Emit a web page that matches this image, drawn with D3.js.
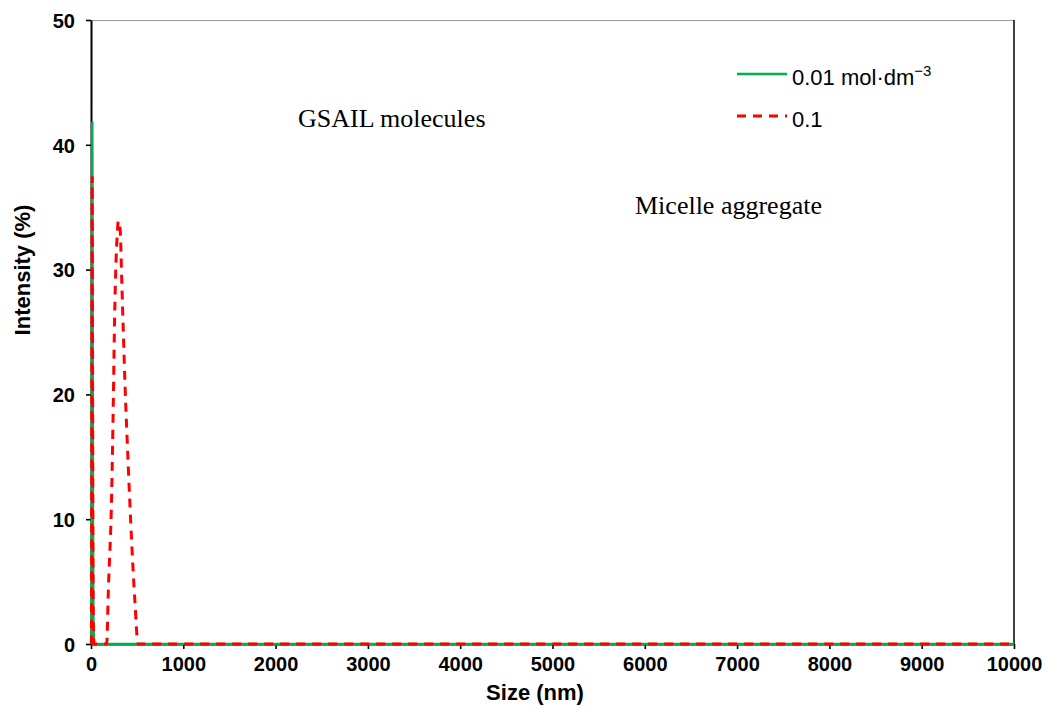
<!DOCTYPE html>
<html>
<head>
<meta charset="utf-8">
<script src="https://cdn.jsdelivr.net/npm/d3@7"></script>
<style>
  html, body { margin: 0; padding: 0; background: #fff; }
  svg { display: block; }
</style>
</head>
<body>
<svg id="chart" width="1049" height="709"></svg>
<script>
// Particle size distribution (DLS) of GSAIL solutions
const xTicks = [0, 1000, 2000, 3000, 4000, 5000, 6000, 7000, 8000, 9000, 10000];
const yTicks = [0, 10, 20, 30, 40, 50];

// 0.01 mol·dm⁻³ : single narrow peak of free molecules
const lowSize      = [0, 4, 8, 11, 14, 17, 21, 26, 35, 10000];
const lowIntensity = [0, 0, 12, 30, 41.8, 28, 10, 2, 0, 0];

// 0.1 mol·dm⁻³ : molecules plus micelle aggregates
const highSize      = [0, 4, 7, 10, 13, 16, 20, 25, 32, 170, 188, 224, 242, 253, 267, 285, 296, 314, 336, 368, 404, 441, 475, 510, 10000];
const highIntensity = [0, 0, 8, 25, 37.4, 26, 10, 2, 0, 0, 4.3, 12.1, 19.5, 24.9, 29.7, 32.9, 33.9, 33.4, 28.4, 20.9, 14.2, 8.1, 3.5, 0, 0];

const seriesLabels = ["0.01 mol·dm", "0.1"];
const seriesColors = ["#00b050", "#ff0000"];

const svg = d3.select("#chart");
const margin = { left: 91, top: 20, right: 35, bottom: 65 };
const W = 1049, H = 709;
const x = d3.scaleLinear().domain([0, 10000]).range([margin.left, W - margin.right]);
const y = d3.scaleLinear().domain([0, 50]).range([H - margin.bottom, margin.top]);

// frame: top (light) and right borders
svg.append("line")
  .attr("x1", x(0)).attr("x2", x(10000))
  .attr("y1", y(50) + 0.5).attr("y2", y(50) + 0.5)
  .attr("stroke", "#999").attr("stroke-width", 1);
svg.append("line")
  .attr("x1", x(10000)).attr("x2", x(10000))
  .attr("y1", y(50)).attr("y2", y(0))
  .attr("stroke", "#111").attr("stroke-width", 1.6);

// axes
const xAxis = d3.axisBottom(x).tickValues(xTicks).tickFormat(d3.format("d"))
  .tickSize(5).tickSizeOuter(0).tickPadding(8);
const yAxis = d3.axisLeft(y).tickValues(yTicks).tickFormat(d3.format("d"))
  .tickSize(5).tickSizeOuter(0).tickPadding(11);

const gx = svg.append("g").attr("transform", `translate(0,${y(0)})`).call(xAxis);
const gy = svg.append("g").attr("transform", `translate(${x(0)},0)`).call(yAxis);

[gx, gy].forEach(g => {
  g.select(".domain").attr("stroke", "#000").attr("stroke-width", 2);
  g.selectAll(".tick line").attr("stroke", "#000").attr("stroke-width", 1.6);
  g.selectAll(".tick text")
    .attr("fill", "#000")
    .style("font-family", "'Liberation Sans', Arial, sans-serif")
    .style("font-weight", "bold")
    .style("font-size", "20px");
});
gy.selectAll(".tick text").attr("dy", "0.36em");

// axis titles
svg.append("text")
  .attr("x", 535).attr("y", 700)
  .attr("text-anchor", "middle")
  .style("font-family", "'Liberation Sans', Arial, sans-serif")
  .style("font-weight", "bold").style("font-size", "22px")
  .text("Size (nm)");
svg.append("text")
  .attr("transform", "translate(30,270) rotate(-90)")
  .attr("text-anchor", "middle")
  .style("font-family", "'Liberation Sans', Arial, sans-serif")
  .style("font-weight", "bold").style("font-size", "22px")
  .text("Intensity (%)");

// series
const line = d3.line().x(d => x(d[0])).y(d => y(d[1])).curve(d3.curveMonotoneX);
const lowData = lowSize.map((s, i) => [s, lowIntensity[i]]);
const highData = highSize.map((s, i) => [s, highIntensity[i]]);

svg.append("path").datum(lowData)
  .attr("d", line).attr("fill", "none")
  .attr("stroke", seriesColors[0]).attr("stroke-width", 2.5)
  .attr("stroke-linejoin", "round");
svg.append("path").datum(highData)
  .attr("d", line).attr("fill", "none")
  .attr("stroke", seriesColors[1]).attr("stroke-width", 3)
  .attr("stroke-dasharray", "9,7")
  .attr("stroke-linejoin", "round");

// legend
const legend = svg.append("g");
const legendRows = [
  { y: 74, dash: null, width: 2.5 },
  { y: 116, dash: "9,7", width: 3 }
];
legendRows.forEach((r, i) => {
  legend.append("line")
    .attr("x1", 737).attr("x2", 787)
    .attr("y1", r.y).attr("y2", r.y)
    .attr("stroke", seriesColors[i]).attr("stroke-width", r.width)
    .attr("stroke-dasharray", r.dash);
  const t = legend.append("text")
    .attr("x", 792).attr("y", r.y + 5)
    .style("font-family", "'Liberation Sans', Arial, sans-serif")
    .style("font-size", "22px")
    .attr("dominant-baseline", "middle")
    .text(seriesLabels[i]);
  if (i === 0) {
    t.append("tspan")
      .attr("dy", "-0.45em")
      .style("font-size", "15px")
      .text("−3");
  }
});

// annotations
const serif = "'Liberation Serif', 'Times New Roman', serif";
svg.append("text")
  .attr("x", 298).attr("y", 127)
  .style("font-family", serif).style("font-size", "26px")
  .text("GSAIL molecules");
svg.append("text")
  .attr("x", 635).attr("y", 214)
  .style("font-family", serif).style("font-size", "26px")
  .text("Micelle aggregate");
</script>
</body>
</html>
